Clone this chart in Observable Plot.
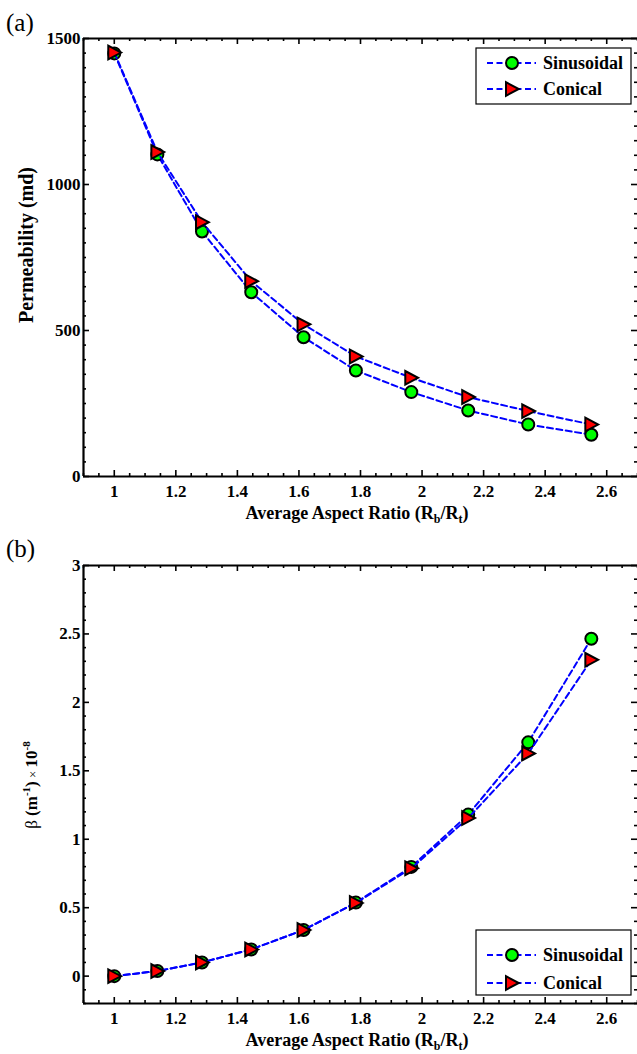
<!DOCTYPE html>
<html><head><meta charset="utf-8">
<script src="https://cdn.jsdelivr.net/npm/d3@7"></script>
<script src="https://cdn.jsdelivr.net/npm/@observablehq/plot@0.6"></script>
<style>
body{margin:0;background:#fff;}
#chart{width:637px;height:1054px;}
svg{display:block;overflow:visible}
</style></head><body><div id="chart"></div>
<script>
// ---- data ----
const aspectRatio = [1, 1.14, 1.285, 1.445, 1.615, 1.785, 1.965, 2.15, 2.345, 2.55];
const permSinusoidal = [1449, 1103, 839, 631, 477, 363, 289, 226, 178, 143];
const permConical = [1452, 1111, 871, 669, 521, 411, 338, 272, 224, 178];
const betaSinusoidal = [0, 0.037, 0.10, 0.195, 0.337, 0.537, 0.798, 1.18, 1.708, 2.465];
const betaConical = [0, 0.037, 0.10, 0.195, 0.337, 0.535, 0.788, 1.155, 1.627, 2.311];
const seriesNames = ["Sinusoidal", "Conical"];
const xTicks = [1, 1.2, 1.4, 1.6, 1.8, 2, 2.2, 2.4, 2.6];
const xTickLabels = ["1", "1.2", "1.4", "1.6", "1.8", "2", "2.2", "2.4", "2.6"];
const permTicks = [0, 500, 1000, 1500];
const permTickLabels = ["0", "500", "1000", "1500"];
const betaTicks = [0, 0.5, 1, 1.5, 2, 2.5, 3];
const betaTickLabels = ["0", "0.5", "1", "1.5", "2", "2.5", "3"];

const FONT = "'Liberation Serif','Times New Roman',serif";
const W = 637, H = 527, mL = 83, mT = 38, mB = 51, mR = 0;
const plotW = W - mL - mR, plotH = H - mT - mB;
const xDomain = [0.9, 2.7];
const xMinor = d3.range(0.9, 2.7001, 0.05).map(v => +v.toFixed(2)).filter(v => !xTicks.some(t => Math.abs(t - v) < 1e-6));

const triShape = [[-6, -6.8], [-6, 6.8], [6.8, 0]];
const triSymbol = {
  draw(context, size) {
    const s = Math.sqrt(size / Math.PI) / 6;
    context.moveTo(triShape[0][0] * s, triShape[0][1] * s);
    context.lineTo(triShape[1][0] * s, triShape[1][1] * s);
    context.lineTo(triShape[2][0] * s, triShape[2][1] * s);
    context.closePath();
  }
};

function panel({yDomain, yTicks, yTickLabels, yMinorStep, sin, con}) {
  const yMinor = d3.range(yDomain[0], yDomain[1] + yMinorStep / 2, yMinorStep)
    .map(v => +v.toFixed(4)).filter(v => !yTicks.some(t => Math.abs(t - v) < 1e-6));
  const rowsSin = aspectRatio.map((x, i) => ({x, y: sin[i], s: seriesNames[0]}));
  const rowsCon = aspectRatio.map((x, i) => ({x, y: con[i], s: seriesNames[1]}));
  const tk = {stroke: "black", strokeWidth: 1.6};
  const lineOpts = {x: "x", y: "y", stroke: "#0000ff", strokeWidth: 2, strokeDasharray: "6,3.5"};
  return Plot.plot({
    width: W, height: H,
    marginLeft: mL, marginTop: mT, marginBottom: mB, marginRight: mR,
    style: {fontFamily: FONT, background: "white", color: "black"},
    x: {domain: xDomain, axis: null},
    y: {domain: yDomain, axis: null},
    marks: [
      // inward ticks on all sides
      Plot.tickX(xTicks, {...tk, insetTop: plotH - 6}),
      Plot.tickX(xTicks, {...tk, insetBottom: plotH - 6}),
      Plot.tickX(xMinor, {...tk, insetTop: plotH - 3}),
      Plot.tickX(xMinor, {...tk, insetBottom: plotH - 3}),
      Plot.tickY(yTicks, {...tk, insetRight: plotW - 6}),
      Plot.tickY(yTicks, {...tk, insetLeft: plotW - 6}),
      Plot.tickY(yMinor, {...tk, insetRight: plotW - 3}),
      Plot.tickY(yMinor, {...tk, insetLeft: plotW - 3}),
      // spines
      Plot.ruleX([xDomain[0]], {stroke: "black", strokeWidth: 2.2}),
      Plot.ruleY([yDomain[0]], {stroke: "black", strokeWidth: 2.2}),
      Plot.ruleY([yDomain[1]], {stroke: "black", strokeWidth: 2.2}),
      // tick labels
      Plot.axisX(xTicks, {tickSize: 0, tickPadding: 8, label: null, fontSize: 17, fontWeight: "bold",
        tickFormat: d => xTickLabels[xTicks.indexOf(d)]}),
      Plot.axisY(yTicks, {tickSize: 0, tickPadding: 3, label: null, fontSize: 17, fontWeight: "bold",
        tickFormat: d => yTickLabels[yTicks.indexOf(d)]}),
      // data
      Plot.line(rowsSin, lineOpts),
      Plot.dot(rowsSin, {x: "x", y: "y", r: 6, fill: "#00ff00", stroke: "black", strokeWidth: 2}),
      Plot.line(rowsCon, lineOpts),
      Plot.dot(rowsCon, {x: "x", y: "y", r: 6, symbol: triSymbol, fill: "#ff0000", stroke: "black", strokeWidth: 2})
    ]
  });
}

function decorate(svg, {tag, tagY, legendBox, legendRows, yLabel}) {
  const s = d3.select(svg);
  // make tick labels large & bold
  s.selectAll('g[aria-label$="tick label"]').attr("font-size", 17).attr("font-weight", "bold")
    .style("font-size", "17px").style("font-weight", "bold").style("font-family", FONT);
  s.selectAll('g[aria-label$="tick label"] text').style("font-size", "17px").style("font-weight", "bold");
  // panel tag
  s.append("text").attr("x", 6).attr("y", tagY).attr("text-anchor", "start").attr("font-family", FONT)
    .attr("font-size", 25).text(tag);
  // x label
  const xl = s.append("text").attr("x", 357).attr("y", 519).attr("text-anchor", "middle")
    .attr("font-family", FONT).attr("font-size", 18).attr("font-weight", "bold");
  xl.append("tspan").text("Average Aspect Ratio (R");
  xl.append("tspan").attr("font-size", 12).attr("dy", 4).text("b");
  xl.append("tspan").attr("dy", -4).text("/R");
  xl.append("tspan").attr("font-size", 12).attr("dy", 4).text("t");
  xl.append("tspan").attr("dy", -4).text(")");
  // y label
  yLabel(s);
  // legend
  const [bx0, by0, bx1, by1] = legendBox;
  const g = s.append("g");
  g.append("rect").attr("x", bx0).attr("y", by0).attr("width", bx1 - bx0).attr("height", by1 - by0)
    .attr("fill", "white").attr("stroke", "black").attr("stroke-width", 1.2);
  legendRows.forEach((ry, i) => {
    g.append("line").attr("x1", 487).attr("x2", 536).attr("y1", ry).attr("y2", ry)
      .attr("stroke", "#0000ff").attr("stroke-width", 2).attr("stroke-dasharray", "6,3.5");
    if (i === 0) {
      g.append("circle").attr("cx", 512).attr("cy", ry).attr("r", 6)
        .attr("fill", "#00ff00").attr("stroke", "black").attr("stroke-width", 2);
    } else {
      g.append("path").attr("transform", `translate(512,${ry})`)
        .attr("d", "M" + triShape.map(p => p.join(",")).join("L") + "Z")
        .attr("fill", "#ff0000").attr("stroke", "black").attr("stroke-width", 2);
    }
    g.append("text").attr("x", 543).attr("y", ry + 6).attr("text-anchor", "start").attr("font-family", FONT)
      .attr("font-size", 18).attr("font-weight", "bold").text(seriesNames[i]);
  });
}

const chart = document.getElementById("chart");

const svgA = panel({yDomain: [0, 1500], yTicks: permTicks, yTickLabels: permTickLabels, yMinorStep: 50,
  sin: permSinusoidal, con: permConical});
chart.appendChild(svgA);
decorate(svgA, {
  tag: "(a)", tagY: 31, legendBox: [476, 48, 631, 104], legendRows: [63, 89],
  yLabel: s => s.append("text").attr("transform", "translate(33,245) rotate(-90)")
    .attr("text-anchor", "middle").attr("font-family", FONT).attr("font-size", 20)
    .attr("font-weight", "bold").text("Permeability (md)")
});

const svgB = panel({yDomain: [-0.2, 3], yTicks: betaTicks, yTickLabels: betaTickLabels, yMinorStep: 0.1,
  sin: betaSinusoidal, con: betaConical});
chart.appendChild(svgB);
decorate(svgB, {
  tag: "(b)", tagY: 30, legendBox: [476, 403, 631, 468], legendRows: [428, 456],
  yLabel: s => {
    const t = s.append("text").attr("transform", "translate(37,258) rotate(-90)")
      .attr("text-anchor", "middle").attr("font-family", FONT).attr("font-size", 17);
    t.append("tspan").text("β ");
    t.append("tspan").attr("font-weight", "bold").text("(m");
    t.append("tspan").attr("font-weight", "bold").attr("font-size", 11).attr("dy", -7).text("-1");
    t.append("tspan").attr("font-weight", "bold").attr("dy", 7).text(")");
    t.append("tspan").attr("font-size", 13).text(" × ");
    t.append("tspan").attr("font-weight", "bold").text("10");
    t.append("tspan").attr("font-weight", "bold").attr("font-size", 11).attr("dy", -7).text("-8");
  }
});
</script></body></html>
